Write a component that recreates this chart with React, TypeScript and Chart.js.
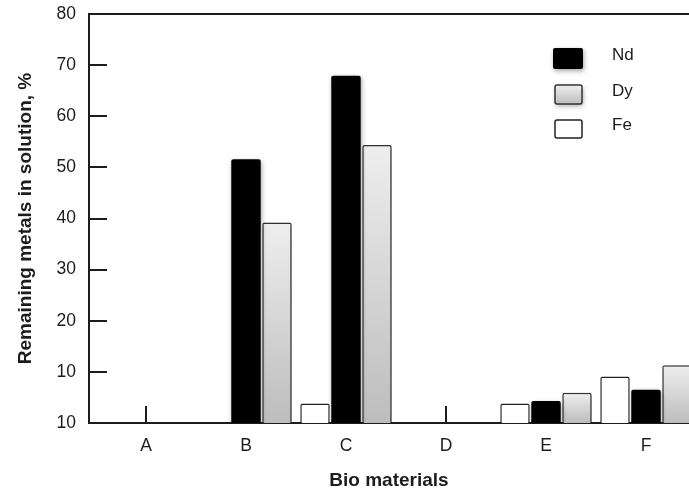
import React, { useEffect, useRef } from 'react';
import { Chart, registerables } from 'chart.js';

Chart.register(...registerables);

const categories = ['A', 'B', 'C', 'D', 'E', 'F'];
const feValues = [0, 0, 3.8, 0, 3.8, 9.1];
const ndValues = [0, 51.6, 67.9, 0, 4.3, 6.5];
const dyValues = [0, 39.2, 54.4, 0, 5.9, 11.3];
const yTickLabels = ['10', '10', '20', '30', '40', '50', '60', '70', '80'];
const seriesNames = ['Fe', 'Nd', 'Dy'];
const legendOrder = ['Nd', 'Dy', 'Fe'];
const yTitle = 'Remaining metals in solution, %';
const xTitle = 'Bio materials';

const FONT = '"Liberation Sans", Arial, sans-serif';
const INK = '#1c1c1c';

function dyGradient(ctx: CanvasRenderingContext2D, top: number, bottom: number) {
  const g = ctx.createLinearGradient(0, top, 0, bottom);
  g.addColorStop(0, '#eeeeee');
  g.addColorStop(1, '#bdbdbd');
  return g;
}

const shadowPlugin = {
  id: 'barShadow',
  beforeDatasetDraw(chart: any, args: any) {
    const name = chart.data.datasets[args.index].label;
    const ctx = chart.ctx;
    ctx.save();
    if (name !== 'Fe') {
      ctx.shadowColor = 'rgba(0,0,0,0.35)';
      ctx.shadowBlur = 5;
      ctx.shadowOffsetX = 1;
      ctx.shadowOffsetY = 2;
    }
  },
  afterDatasetDraw(chart: any) {
    chart.ctx.restore();
  },
};

const framePlugin = {
  id: 'frameTicks',
  beforeDatasetsDraw(chart: any) {
    const { ctx, chartArea, scales } = chart;
    ctx.save();
    ctx.strokeStyle = INK;
    ctx.lineWidth = 2;
    ctx.beginPath();
    ctx.moveTo(chartArea.left - 1, chartArea.top);
    ctx.lineTo(chart.width, chartArea.top);
    scales.y.ticks.forEach((t: any) => {
      if (t.value <= scales.y.min || t.value >= scales.y.max) return;
      const y = Math.round(scales.y.getPixelForValue(t.value));
      ctx.moveTo(chartArea.left, y);
      ctx.lineTo(chartArea.left + 18, y);
    });
    categories.forEach((_, i) => {
      const x = Math.round(scales.x.getPixelForValue(i));
      ctx.moveTo(x, chartArea.bottom);
      ctx.lineTo(x, chartArea.bottom - 17);
    });
    ctx.stroke();
    ctx.restore();
  },
};

const legendPlugin = {
  id: 'customLegend',
  afterDraw(chart: any) {
    const ctx = chart.ctx as CanvasRenderingContext2D;
    const items: Record<string, { x: number; y: number; w: number; h: number; ty: number }> = {
      Nd: { x: 553, y: 48, w: 30, h: 21, ty: 60 },
      Dy: { x: 555, y: 85, w: 27, h: 19, ty: 96 },
      Fe: { x: 555, y: 120, w: 27, h: 18, ty: 130 },
    };
    legendOrder.forEach((name) => {
      const it = items[name];
      ctx.save();
      if (name !== 'Fe') {
        ctx.shadowColor = 'rgba(0,0,0,0.35)';
        ctx.shadowBlur = 5;
        ctx.shadowOffsetX = 1;
        ctx.shadowOffsetY = 2;
      }
      ctx.beginPath();
      (ctx as any).roundRect(it.x, it.y, it.w, it.h, 2);
      if (name === 'Nd') {
        ctx.fillStyle = '#000';
        ctx.fill();
      } else if (name === 'Dy') {
        ctx.fillStyle = dyGradient(ctx, it.y, it.y + it.h);
        ctx.fill();
        ctx.shadowColor = 'transparent';
        ctx.lineWidth = 1.5;
        ctx.strokeStyle = '#333';
        ctx.stroke();
      } else {
        ctx.fillStyle = '#fff';
        ctx.fill();
        ctx.lineWidth = 1.5;
        ctx.strokeStyle = '#222';
        ctx.stroke();
      }
      ctx.restore();
      ctx.save();
      ctx.font = `17px ${FONT}`;
      ctx.fillStyle = INK;
      ctx.textBaseline = 'alphabetic';
      ctx.textAlign = 'left';
      ctx.fillText(name, 612, it.ty);
      ctx.restore();
    });
  },
};

export default function App() {
  const canvasRef = useRef<HTMLCanvasElement | null>(null);

  useEffect(() => {
    if (!canvasRef.current) return;
    const toPoints = (vals: number[]) => vals.map((v, i) => ({ x: i, y: v }));
    const seriesData: Record<string, number[]> = { Fe: feValues, Nd: ndValues, Dy: dyValues };

    const chart = new Chart(canvasRef.current, {
      type: 'bar',
      data: {
        datasets: seriesNames.map((name) => ({
          label: name,
          data: toPoints(seriesData[name]),
          categoryPercentage: 0.93,
          barPercentage: 0.95,
          borderRadius: 2,
          borderSkipped: 'start',
          borderWidth: name === 'Nd' ? 0 : 1.5,
          borderColor: name === 'Dy' ? '#333333' : '#222222',
          backgroundColor:
            name === 'Nd'
              ? '#000000'
              : name === 'Fe'
              ? '#ffffff'
              : (c: any) => {
                  const chart = c.chart;
                  if (!chart.chartArea || !c.parsed) return '#d8d8d8';
                  const ys = chart.scales.y;
                  const top = ys.getPixelForValue(c.parsed.y);
                  const bottom = ys.getPixelForValue(0);
                  if (!(bottom > top)) return '#d8d8d8';
                  return dyGradient(chart.ctx, top, bottom);
                },
        })) as any,
      },
      options: {
        animation: false,
        responsive: false,
        maintainAspectRatio: false,
        layout: { padding: 0 },
        plugins: {
          legend: { display: false },
          tooltip: { enabled: false },
        },
        font: { family: FONT },
        scales: {
          x: {
            type: 'linear',
            offset: false,
            min: -0.57,
            max: 5.43,
            afterBuildTicks: (s: any) => {
              s.ticks = categories.map((_, i) => ({ value: i }));
            },
            afterFit: (s: any) => {
              s.height = 69;
              s.paddingLeft = 0;
              s.paddingRight = 0;
            },
            grid: { display: false, drawTicks: false, offset: false },
            border: { display: true, color: INK, width: 2 },
            ticks: {
              padding: 13,
              color: INK,
              font: { family: FONT, size: 17.5 },
              maxRotation: 0,
              autoSkip: false,
              callback: (v: any) => categories[v as number] ?? '',
            },
            title: {
              display: true,
              text: xTitle,
              color: INK,
              font: { family: FONT, size: 19, weight: 'bold' },
              padding: { top: 0, bottom: 0 },
            },
          },
          y: {
            min: 0,
            max: 80,
            afterFit: (s: any) => {
              s.width = 89;
              s.paddingTop = 14;
              s.paddingBottom = 0;
            },
            grid: { display: false, drawTicks: false },
            border: { display: true, color: INK, width: 2 },
            ticks: {
              stepSize: 10,
              padding: 13,
              color: INK,
              font: { family: FONT, size: 17.5 },
              callback: (v: any) => yTickLabels[Math.round((v as number) / 10)] ?? '',
            },
            title: {
              display: true,
              text: yTitle,
              color: INK,
              font: { family: FONT, size: 19, weight: 'bold' },
              padding: { top: 14, bottom: 0 },
            },
          },
        },
      } as any,
      plugins: [framePlugin, shadowPlugin, legendPlugin],
    });
    return () => chart.destroy();
  }, []);

  return (
    <div style={{ position: 'absolute', left: 0, top: 0, width: 689, height: 492, overflow: 'hidden', background: '#fff' }}>
      <canvas ref={canvasRef} width={689} height={492} style={{ display: 'block' }} />
    </div>
  );
}
